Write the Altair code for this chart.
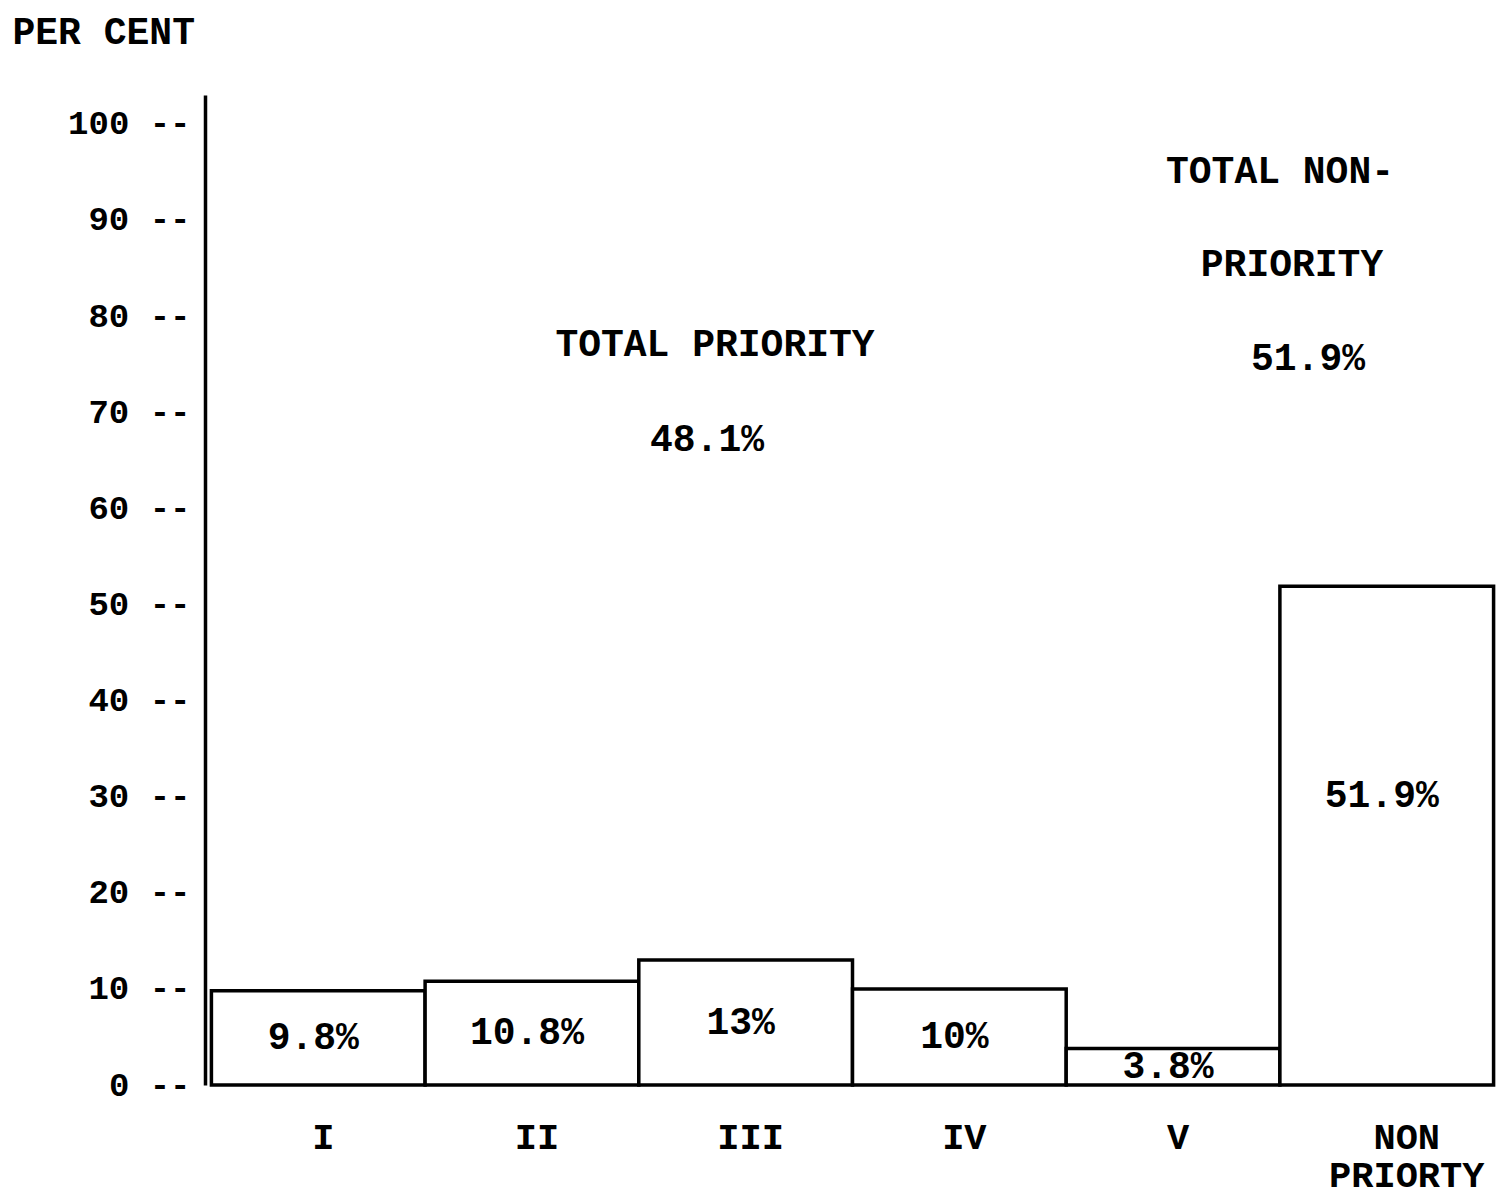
import altair as alt
import pandas as pd

categories = ["I", "II", "III", "IV", "V", "NON PRIORTY"]
values = [9.8, 10.8, 13.0, 10.0, 3.8, 51.9]
bar_labels = ["9.8%", "10.8%", "13%", "10%", "3.8%", "51.9%"]
y_ticks = [0, 10, 20, 30, 40, 50, 60, 70, 80, 90, 100]

ann_text = ["TOTAL PRIORITY", "48.1%", "TOTAL NON-", "PRIORITY", "51.9%"]
ann_y = [77.0, 67.1, 95.0, 85.3, 75.5]
ann_x = [510, 502, 1075, 1087, 1103]

FONT = "Liberation Mono"

df = pd.DataFrame({"cat": categories, "val": values, "lab": bar_labels})
df["mid"] = df["val"] / 2

xscale = alt.Scale(domain=categories, paddingInner=0, paddingOuter=0.03)
yscale = alt.Scale(domain=[0, 103], nice=False)

base = alt.Chart(df)

bars = base.mark_bar(fill="white", stroke="black", strokeWidth=3.5).encode(
    x=alt.X("cat:N", scale=xscale, sort=categories,
            axis=alt.Axis(title=None, domain=False, ticks=False, labelAngle=0, grid=False,
                          labelFont=FONT, labelFontSize=37, labelFontWeight="bold", labelColor="black",
                          labelPadding=34, labelBaseline="top", labelLineHeight=38,
                          labelExpr="datum.value == 'NON PRIORTY' ? ['NON', 'PRIORTY'] : datum.label",
                          labelOffset={"condition": {"test": "datum.value == 'NON PRIORTY'", "value": 20}, "value": 5})),
    y=alt.Y("val:Q", scale=yscale,
            axis=alt.Axis(values=y_ticks, title="PER CENT", titleAngle=0,
                          titleX=-193, titleY=-63, titleAlign="left", titleBaseline="middle",
                          titleFont=FONT, titleFontSize=38, titleFontWeight="bold", titleColor="black",
                          domainColor="black", domainWidth=3.5, ticks=False, grid=False,
                          labelExpr="datum.label + ' --'", labelFont=FONT, labelFontSize=34,
                          labelFontWeight="bold", labelColor="black", labelPadding=15)),
)

text_style = dict(font=FONT, fontSize=38, fontWeight="bold", color="black", baseline="middle")

bar_text = base.transform_filter("datum.cat != 'NON PRIORTY'").mark_text(dx=-5, **text_style).encode(
    x=alt.X("cat:N", scale=xscale, sort=categories),
    y=alt.Y("mid:Q", scale=yscale),
    text="lab:N",
)

non_text = base.transform_filter("datum.cat == 'NON PRIORTY'").mark_text(dx=-5, dy=-40, **text_style).encode(
    x=alt.X("cat:N", scale=xscale, sort=categories),
    y=alt.Y("mid:Q", scale=yscale),
    text="lab:N",
)

ann_layers = []
for t, yv, xv in zip(ann_text, ann_y, ann_x):
    ann_layers.append(
        alt.Chart(pd.DataFrame({"t": [t], "y": [yv]})).mark_text(align="center", **text_style).encode(
            x=alt.value(xv),
            y=alt.Y("y:Q", scale=yscale),
            text="t:N",
        )
    )

chart = alt.layer(bars, bar_text, non_text, *ann_layers).properties(
    width=1295, height=990,
    background="white",
    autosize=alt.AutoSizeParams(type="none"),
    padding={"left": 197, "top": 87, "right": 0, "bottom": 116},
).configure_view(strokeWidth=0, stroke="transparent"
).configure_axis(grid=False)

chart.save("out.html", embed_options={"renderer": "svg", "actions": False})
